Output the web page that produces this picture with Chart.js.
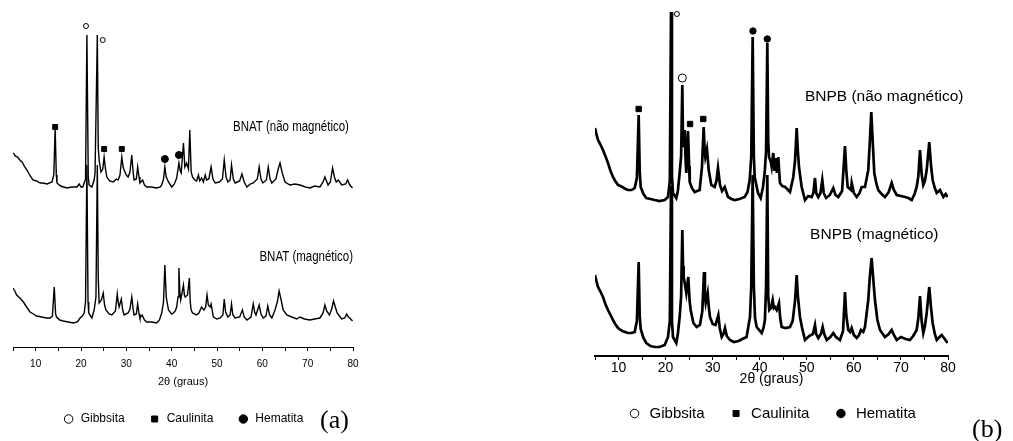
<!DOCTYPE html>
<html>
<head>
<meta charset="utf-8">
<script src="https://cdn.jsdelivr.net/npm/chart.js@4.4.0/dist/chart.umd.min.js"></script>
<style>
  body { margin: 0; background: #fff; width: 1013px; height: 441px; overflow: hidden; position: relative; }
  #chartA { position: absolute; left: 0; top: 0; }
  #chartB { position: absolute; left: 580px; top: 0; }
  .tag { position: absolute; font-family: "Liberation Serif", "Times New Roman", serif; font-size: 26px; line-height: 1; color: #000; }
</style>
</head>
<body>
<canvas id="chartA" width="370" height="441"></canvas>
<canvas id="chartB" width="433" height="441"></canvas>
<div class="tag" style="left:320px; top:407px;">(a)</div>
<div class="tag" style="left:972px; top:416px;">(b)</div>
<script>
// ---- (a) BNAT : 2theta (graus) / intensidade (u.a.) ----
const thetaA1 = [5.07,5.5,6.0,6.5,7.0,7.6,8.2,8.8,9.4,10.2,11.0,11.6,12.5,13.6,14.0,14.3,14.55,14.7,15.5,16.2,16.9,18.0,19.1,19.6,20.0,20.4,21.0,21.3,21.6,21.8,22.4,22.9,23.1,23.6,23.8,24.0,24.4,24.8,25.1,25.4,25.7,26.3,27.1,27.8,28.2,28.6,29.0,29.3,29.5,30.0,30.4,30.8,31.2,31.5,31.7,32.2,32.5,32.8,33.0,33.6,34.0,34.5,35.5,36.7,37.5,37.8,38.2,38.5,38.8,39.3,40.0,40.6,41.1,41.6,41.9,42.1,42.6,42.9,43.3,43.7,44.0,44.3,44.6,45.1,45.5,45.9,46.2,46.6,47.0,47.4,47.7,48.2,48.7,49.1,49.6,50.5,51.2,51.6,52.0,52.4,52.9,53.2,53.6,54.0,55.0,55.5,56.0,56.6,57.3,58.0,58.9,59.3,59.7,60.1,60.9,61.3,61.7,62.1,63.0,63.5,63.9,64.4,65.0,66.1,67.2,68.3,69.5,70.5,71.5,72.7,73.4,73.8,74.5,75.0,75.5,75.9,76.3,76.8,77.5,78.4,78.8,79.3,79.9];
const intA1 = [194,191,190,187,185,180,176,171,167,166,164,164,163,165,172,219,172,164,161,160,159,160,160,163,160,160,168,312,170,162,160,167,174,312,200,187,175,178,190,178,170,166,165,168,167,172,190,180,177,172,170,175,192,175,167,168,180,170,164,167,162,160,160,159,160,162,168,180,170,165,160,163,169,184,176,174,204,180,184,178,217,175,170,167,166,172,166,169,165,172,167,168,180,168,164,165,168,187,170,165,167,182,168,164,166,173,165,160,163,164,168,180,168,164,167,180,168,164,168,178,184,174,165,162,163,162,160,159,161,160,165,170,162,165,179,170,165,167,162,163,167,162,159];

const thetaA2 = [5.0,5.4,5.8,6.5,7.3,8.0,8.75,9.5,10.2,11.3,12.4,13.2,13.7,14.1,14.4,14.6,15.3,16.1,17.2,18.3,19.2,19.8,20.3,20.7,21.0,21.3,21.55,21.7,22.4,22.9,23.3,23.6,23.8,24.0,24.5,24.9,25.2,25.5,26.2,26.8,27.6,28.0,28.2,28.4,28.9,29.2,29.5,30.4,30.8,31.2,31.5,31.7,32.2,32.5,32.8,33.0,33.5,34.0,34.5,35.6,36.7,37.3,37.8,38.2,38.5,38.8,39.3,40.0,40.4,40.8,41.1,41.4,41.6,41.8,42.0,42.6,42.8,43.0,43.5,43.9,44.1,44.3,44.6,45.5,46.0,46.6,47.1,47.5,47.8,48.1,48.5,48.7,49.2,50.0,50.7,51.3,51.6,51.9,52.4,52.9,53.2,53.5,54.0,55.0,55.6,56.0,56.6,57.5,58.0,58.3,58.6,59.3,59.7,60.2,60.8,61.2,61.6,62.1,62.8,63.3,63.7,64.1,64.6,65.4,66.5,67.6,68.3,69.3,70.5,71.5,72.7,73.4,73.8,74.2,74.8,75.3,75.7,76.1,76.5,77.0,77.5,78.2,78.6,79.0,79.5,79.9];
const intA2 = [59,56,52,49,45,40,35,33,31,30,29,29,31,60,33,30,27,26,25,24,25,29,31,34,45,182,45,34,29,37,50,182,70,44,47,54,42,37,33,32,36,53,45,40,48,37,32,34,38,50,38,32,33,43,33,29,32,27,25,25,24,27,34,45,82,50,37,33,34,36,40,50,79,55,47,62,52,50,52,69,45,37,34,32,34,40,37,40,52,42,40,43,30,28,29,32,48,35,30,32,43,32,29,30,37,30,27,30,43,35,32,42,33,29,31,41,32,29,37,45,56,48,37,32,30,28,30,28,27,28,29,34,42,36,32,38,46,40,34,31,28,29,33,30,28,26];

const gibbsThetaA = [21.1, 24.8];   const gibbsIntA = [321, 307];
const caulThetaA  = [14.3, 25.1, 29.0]; const caulIntA = [220, 198, 198];
const hemaThetaA  = [38.5, 41.6];   const hemaIntA  = [188, 192];

// ---- (b) BNPB ----
const thetaB1 = [5.0,5.3,5.64,6.1,6.7,7.2,7.76,8.3,8.82,9.3,9.89,10.8,11.5,12.0,12.8,13.43,13.9,14.28,14.5,14.71,15.3,15.9,16.8,17.68,18.7,19.81,20.51,20.9,21.15,21.35,21.57,22.27,22.6,22.99,23.3,23.55,23.7,23.84,24.06,24.25,24.40,24.76,25.0,25.12,25.6,26.18,26.7,27.24,27.73,28.09,28.3,28.44,28.79,29.16,29.71,30.43,30.8,31.13,31.56,32.0,32.56,33.26,34.0,34.68,35.7,36.8,37.4,37.87,38.2,38.5,38.75,38.93,39.63,40.2,40.69,41.05,41.35,41.61,41.8,41.97,42.3,42.54,42.88,43.15,43.39,43.65,43.94,44.3,44.8,45.4,46.43,47.13,47.5,47.85,48.1,48.34,48.91,49.61,50.3,51.03,51.4,51.74,52.0,52.44,52.9,53.29,53.6,54.1,54.9,55.63,56.1,56.69,57.5,58.11,58.4,58.69,59.39,59.54,60.0,60.6,61.2,61.66,62.36,63.06,63.4,63.7,64.0,64.34,64.8,65.19,65.9,66.61,67.4,68.03,68.5,69.1,70.0,70.86,71.6,72.28,72.9,73.34,73.7,74.05,74.4,74.75,75.1,75.47,76.02,76.4,76.74,77.2,77.6,78.3,79.0,79.5,79.93];
const intB1 = [228,222,216,212,206,200,193,185,179,175,171,169,167,166,166,168,178,241,185,169,162,158,157,156,155,156,159,175,344,180,163,158,165,183,200,271,215,209,226,195,183,225,190,174,168,164,165,166,189,229,205,199,207,186,171,169,175,188,171,165,169,159,157,156,157,159,164,176,200,319,200,179,163,158,169,183,205,313,215,199,195,189,203,185,198,183,199,173,170,169,164,179,195,228,205,189,169,156,160,159,163,178,163,159,163,176,163,158,161,168,161,159,165,210,185,169,166,173,163,159,163,169,169,186,215,244,215,183,172,166,162,159,164,173,166,161,160,159,158,156,162,169,180,206,182,171,175,186,214,190,176,168,163,166,159,162,159];

const thetaB2 = [5.0,5.3,5.64,6.1,6.7,7.2,7.76,8.3,8.82,9.3,9.89,10.8,12.0,12.8,13.43,13.9,14.28,14.5,14.71,15.3,15.9,16.8,17.68,18.7,19.81,20.51,20.9,21.15,21.35,21.57,22.27,22.6,22.99,23.3,23.55,23.7,23.84,24.1,24.4,24.82,25.1,25.33,25.9,26.6,27.3,27.8,28.16,28.35,28.52,28.94,29.2,29.43,30.0,30.6,31.2,31.5,31.92,32.3,32.62,33.0,33.68,34.5,35.5,36.3,37.2,37.93,38.2,38.5,38.75,39.0,39.35,40.41,40.8,41.1,41.35,41.61,41.8,42.03,42.4,42.75,43.0,43.24,43.6,44.09,44.35,44.66,45.5,46.43,47.0,47.5,47.85,48.1,48.55,49.0,49.61,50.5,51.3,51.74,52.0,52.44,53.0,53.37,53.7,54.23,55.0,55.63,56.2,57.05,57.7,58.11,58.4,58.81,59.2,59.53,60.0,60.6,61.1,61.51,62.0,62.36,63.06,63.4,63.78,64.1,64.48,65.0,65.55,66.61,67.4,68.03,68.5,69.1,70.0,71.0,71.9,72.6,73.34,73.7,74.05,74.4,74.75,75.1,75.47,76.02,76.4,76.74,77.2,77.6,78.2,78.66,79.3,79.93];
const intB2 = [81,75,69,65,59,52,46,41,36,32,28,25,23,23,24,35,94,40,27,18,13,10,9,9,11,19,35,170,35,19,13,22,39,60,126,90,79,72,63,79,55,46,33,29,31,45,84,60,53,63,48,39,32,31,41,28,19,22,28,20,16,14,15,17,19,39,70,181,70,38,29,23,28,36,70,181,60,46,48,56,48,49,46,53,38,29,28,29,35,55,81,60,39,28,16,20,22,31,22,18,22,29,22,16,19,23,19,16,25,64,40,26,24,28,21,18,21,26,24,29,56,80,98,78,56,36,26,19,22,26,21,16,19,17,16,20,26,38,60,35,23,30,43,69,48,33,22,16,19,21,17,13];

const gibbsThetaB = [22.4, 23.55];  const gibbsIntB = [342, 278];
const caulThetaB  = [14.28, 25.2, 28.0]; const caulIntB = [247, 232, 237];
const hemaThetaB  = [38.56, 41.6];  const hemaIntB  = [325, 317];

const xyPoints = (xs, ys) => xs.map((v, i) => ({ x: v, y: ys[i] }));

// sample names drawn next to each pattern (scaleX squeezes the text like a narrow face)
const seriesLabels = {
  id: 'seriesLabels',
  afterDatasetsDraw(chart, args, opts) {
    const { ctx, scales: { x, y } } = chart;
    ctx.save();
    ctx.font = opts.font;
    ctx.fillStyle = '#000';
    ctx.textBaseline = 'middle';
    opts.items.forEach(it => {
      ctx.save();
      ctx.translate(x.getPixelForValue(it.x), y.getPixelForValue(it.y));
      ctx.scale(opts.scaleX, 1);
      ctx.textAlign = it.align;
      ctx.fillText(it.text, 0, 0);
      ctx.restore();
    });
    ctx.restore();
  }
};

function makeChart(id, cfg) {
  const lineSet = (label, xs, ys) => ({
    label, data: xyPoints(xs, ys), borderColor: '#000', borderWidth: cfg.lineWidth,
    pointRadius: 0, tension: 0, fill: false, order: 2
  });
  const markSet = (label, xs, ys, style, radius, bg) => ({
    type: 'scatter', label, data: xyPoints(xs, ys), pointStyle: style, pointRadius: radius,
    pointHoverRadius: radius, backgroundColor: bg, borderColor: '#000', borderWidth: 1, order: 1
  });
  return new Chart(document.getElementById(id), {
    type: 'line',
    data: {
      datasets: [
        lineSet(cfg.names[0], cfg.top[0], cfg.top[1]),
        lineSet(cfg.names[1], cfg.bottom[0], cfg.bottom[1]),
        markSet('Gibbsita', cfg.gibbs[0], cfg.gibbs[1], 'circle', cfg.gibbsR, '#fff'),
        markSet('Caulinita', cfg.caul[0], cfg.caul[1], 'rect', cfg.caulR, '#000'),
        markSet('Hematita', cfg.hema[0], cfg.hema[1], 'circle', cfg.hemaR, '#000')
      ]
    },
    options: {
      responsive: false,
      animation: false,
      layout: { padding: cfg.padding },
      scales: {
        x: {
          type: 'linear', min: 5, max: 80,
          afterFit: s => { s.height = cfg.xHeight; },
          ticks: {
            stepSize: 5, autoSkip: false, maxRotation: 0, color: '#000',
            padding: cfg.tickPad, font: cfg.tickFont,
            callback: v => (v % 10 === 0 ? v : '')
          },
          grid: { drawOnChartArea: false, tickLength: 4, color: '#000', tickWidth: 1 },
          border: { color: '#000', width: cfg.axisWidth },
          title: { display: true, text: '2θ (graus)', color: '#000', font: cfg.titleFont, padding: cfg.titlePad }
        },
        y: { display: false, min: 0, max: cfg.yMax }
      },
      plugins: {
        tooltip: { enabled: false },
        legend: {
          position: 'bottom',
          labels: {
            filter: item => item.datasetIndex >= 2,
            usePointStyle: true, boxHeight: 6, color: '#000',
            font: cfg.legendFont, padding: cfg.legendPad
          }
        },
        seriesLabels: { font: cfg.labelFont, scaleX: cfg.labelScale, items: cfg.labels }
      }
    },
    plugins: [seriesLabels]
  });
}

const sans = '"Liberation Sans", Arial, sans-serif';

makeChart('chartA', {
  names: ['BNAT (não magnético)', 'BNAT (magnético)'],
  top: [thetaA1, intA1], bottom: [thetaA2, intA2],
  gibbs: [gibbsThetaA, gibbsIntA], gibbsR: 2.5,
  caul: [caulThetaA, caulIntA], caulR: 3.5,
  hema: [hemaThetaA, hemaIntA], hemaR: 3.5,
  lineWidth: 1.4, axisWidth: 1, yMax: 327,
  padding: { left: 13, right: 17, top: 20, bottom: 6 },
  xHeight: 42, tickPad: 7, titlePad: { top: 0, bottom: 0 }, legendPad: 24,
  tickFont: { family: sans, size: 10 },
  titleFont: { family: sans, size: 11 },
  legendFont: { family: sans, size: 12 },
  labelFont: '14px ' + sans, labelScale: 0.82,
  labels: [
    { text: 'BNAT (não magnético)', x: 79.1, y: 220, align: 'right' },
    { text: 'BNAT (magnético)', x: 80, y: 90, align: 'right' }
  ]
});

makeChart('chartB', {
  names: ['BNPB (não magnético)', 'BNPB (magnético)'],
  top: [thetaB1, intB1], bottom: [thetaB2, intB2],
  gibbs: [gibbsThetaB, gibbsIntB], gibbsR: [2.5, 4],
  caul: [caulThetaB, caulIntB], caulR: 3.8,
  hema: [hemaThetaB, hemaIntB], hemaR: 3.2,
  lineWidth: 2.7, axisWidth: 2, yMax: 350,
  padding: { left: 15, right: 65, top: 6, bottom: 10 },
  xHeight: 26, tickPad: 0, titlePad: { top: 0, bottom: -6 }, legendPad: 24,
  tickFont: { family: sans, size: 14 },
  titleFont: { family: sans, size: 14 },
  legendFont: { family: sans, size: 15 },
  labelFont: '15.5px ' + sans, labelScale: 1,
  labels: [
    { text: 'BNPB (não magnético)', x: 49.6, y: 259, align: 'left' },
    { text: 'BNPB (magnético)', x: 50.7, y: 121, align: 'left' }
  ]
});
</script>
</body>
</html>
